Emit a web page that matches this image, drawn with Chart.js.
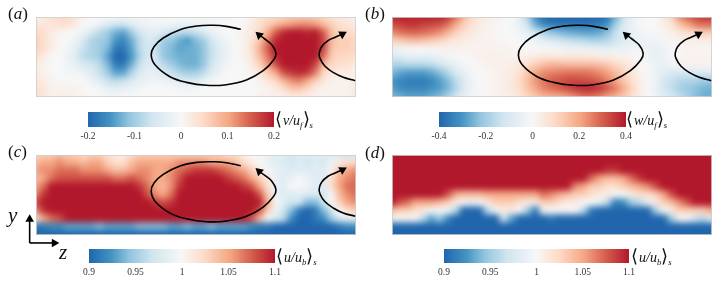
<!DOCTYPE html>
<html><head><meta charset="utf-8">
<style>
html,body{margin:0;padding:0;background:#fff;width:713px;height:286px;overflow:hidden}
#page{position:relative;width:713px;height:286px}
.clip{position:absolute;overflow:hidden;width:320px;height:80px}
.clip canvas{position:absolute;left:-14px;top:-14px;filter:blur(3px)}
.frame{position:absolute;width:320px;height:80px;box-sizing:border-box;border:1px solid rgba(205,205,205,.8)}
.txt{position:absolute;line-height:0;white-space:nowrap;font-family:"Liberation Serif",serif;color:#111}
.txt i{font-style:italic}
.br{font-family:"DejaVu Sans",sans-serif;font-weight:200}
.txt sub{font-size:.62em;line-height:0;vertical-align:-.35em}
</style>
</head><body><div id="page"></div>
<script src="https://cdn.jsdelivr.net/npm/chart.js@4/dist/chart.umd.min.js"></script>
<script>
const rdbu = ['#2166ac','#4393c3','#92c5de','#d1e5f0','#f7f7f7','#fddbc7','#f4a582','#d6604d','#b2182b'];
const rdbuPos = [0,0.12,0.22,0.34,0.5,0.62,0.76,0.87,1];

const ticksA = [-0.2,-0.1,0,0.1,0.2];
const tickLabelsA = ['-0.2','-0.1','0','0.1','0.2'];
const ticksB = [-0.4,-0.2,0,0.2,0.4];
const tickLabelsB = ['-0.4','-0.2','0','0.2','0.4'];
const ticksCD = [0.9,0.95,1,1.05,1.1];
const tickLabelsCD = ['0.9','0.95','1','1.05','1.1'];

/* values in hundredths, rows run from the top of each panel to the bottom */
const fieldA = [
[1,2,4,5,5,3,1,0,0,0,0,-1,-1,-1,-1,0,0,0,0,0,0,-1,-1,-1,-1,0,0,1,3,4,4,5,6,6,6,6,5,3,2,2,1],
[3,3,3,4,4,2,0,0,-2,-4,-6,-6,-4,-2,-1,-1,-1,-1,-2,-2,-2,-1,-1,0,0,0,0,2,4,6,8,10,11,12,12,11,8,6,4,3,2],
[5,4,2,1,0,0,-2,-5,-8,-10,-13,-14,-10,-6,-4,-3,-5,-7,-8,-8,-7,-5,-2,-1,0,0,1,2,5,9,15,19,20,20,19,20,15,8,5,5,4],
[6,4,2,0,0,-2,-5,-9,-10,-11,-15,-17,-13,-8,-5,-6,-10,-11,-13,-15,-12,-10,-6,-3,-1,0,1,3,7,13,19,20,21,21,20,21,17,8,6,6,5],
[6,4,2,0,-1,-3,-7,-9,-10,-12,-18,-18,-14,-8,-5,-7,-11,-12,-14,-13,-13,-11,-7,-4,-2,0,1,4,9,15,20,22,22,22,22,21,17,7,6,6,5],
[4,2,0,0,-2,-4,-8,-9,-10,-14,-20,-20,-15,-9,-5,-6,-11,-12,-13,-13,-13,-11,-7,-4,-2,0,1,3,8,13,19,21,22,22,22,20,14,6,5,5,4],
[2,1,0,0,-1,-3,-5,-6,-8,-12,-18,-18,-13,-7,-4,-5,-8,-10,-12,-13,-13,-11,-6,-3,-1,0,0,2,5,11,16,20,21,21,21,17,8,5,4,4,2],
[2,1,0,0,-1,-1,-2,-4,-7,-10,-14,-14,-9,-5,-3,-3,-5,-7,-9,-10,-10,-8,-4,-2,0,0,0,1,3,6,10,16,18,19,18,13,5,3,2,2,1],
[3,2,1,0,0,0,0,-2,-4,-7,-8,-7,-5,-3,-2,-1,-2,-3,-4,-5,-5,-3,-1,0,0,0,0,0,1,3,5,9,12,13,10,6,3,1,1,1,1],
[4,3,1,1,1,1,0,0,-1,-3,-3,-3,-2,-1,0,0,0,0,-1,-1,-1,0,0,0,0,0,0,0,0,1,2,4,7,7,5,2,1,1,1,1,2],
[4,3,1,2,2,1,1,0,0,-1,-1,0,0,0,0,0,0,0,0,0,0,0,0,0,0,0,0,0,1,1,1,1,2,2,2,1,1,1,1,1,3]
];
const fieldB = [
[38,39,39,38,39,39,39,36,28,18,9,5,3,2,1,0,-6,-18,-32,-38,-40,-40,-40,-40,-40,-40,-40,-36,-26,-13,-5,-1,0,0,4,10,24,30,34,36,36],
[32,34,36,36,34,33,32,28,20,12,7,4,2,1,0,-1,-5,-13,-26,-33,-36,-37,-37,-37,-37,-36,-35,-31,-20,-10,-4,-1,0,0,3,6,14,20,26,28,28],
[24,27,29,29,28,26,24,18,12,8,5,3,2,1,0,0,-3,-6,-11,-18,-22,-24,-26,-27,-28,-28,-27,-23,-14,-8,-5,-2,-1,-1,1,3,6,8,10,12,12],
[11,13,15,16,15,13,11,8,5,4,3,2,2,1,1,0,-1,-2,-4,-7,-9,-12,-14,-15,-16,-18,-18,-17,-13,-10,-7,-4,-3,-3,-1,1,2,3,3,3,3],
[-4,-2,-1,0,0,1,1,2,2,2,2,2,2,2,2,1,1,0,0,-1,-1,-2,-3,-3,-4,-4,-5,-6,-5,-4,-3,-3,-4,-5,-4,-1,0,1,1,1,1],
[-10,-8,-6,-5,-6,-5,-4,-2,-1,0,1,2,3,3,2,2,2,3,4,5,5,4,5,5,4,4,3,3,2,2,1,0,-3,-5,-4,-1,1,2,2,2,1],
[-17,-18,-16,-16,-16,-15,-12,-8,-5,-2,0,1,2,3,3,3,5,8,12,15,17,17,16,16,16,16,15,13,10,7,4,1,-1,-4,-4,-2,1,2,2,2,1],
[-24,-27,-29,-29,-29,-27,-23,-17,-10,-6,-2,0,1,2,3,4,7,14,20,24,25,26,27,27,27,26,24,21,16,11,6,2,0,-4,-7,-10,-10,-9,-8,-8,-8],
[-30,-33,-35,-35,-35,-33,-29,-24,-16,-9,-3,0,1,2,3,5,9,15,23,27,30,31,33,33,32,31,29,25,20,14,8,3,0,-3,-11,-14,-17,-18,-18,-20,-20],
[-28,-32,-33,-33,-33,-31,-29,-25,-18,-9,-3,0,1,2,3,5,9,14,20,25,28,30,33,36,38,38,36,31,26,19,11,4,0,-4,-11,-15,-19,-21,-23,-25,-26],
[-24,-26,-28,-28,-28,-26,-24,-19,-12,-6,-2,0,1,2,2,4,6,10,14,17,18,19,21,24,27,27,25,21,18,14,8,3,0,-3,-8,-11,-15,-19,-23,-26,-26]
];
const fieldC = [
[102,103,103,104,103,103,102,103,103,102,101,101,102,103,103,103,103,103,103,103,103,103,103,103,102,102,101,100,100,99,98,98,97,98,98,98,98,98,97,97,97],
[104,105,105,106,105,105,104,105,105,103,102,102,104,105,105,105,105,105,106,106,106,106,105,105,105,104,102,101,100,99,98,98,97,98,97,98,97,99,101,102,102],
[105,106,106,107,107,107,106,106,106,105,104,104,105,106,106,105,105,106,107,108,109,109,109,108,107,106,105,103,101,100,99,98,98,98,98,98,98,100,104,105,106],
[104,105,107,108,108,108,108,108,108,108,107,107,108,107,106,105,105,106,108,110,110,110,110,110,109,108,107,105,103,101,99,98,99,100,99,98,98,102,105,106,107],
[105,107,110,110,110,110,110,110,110,110,110,110,110,109,107,105,104,106,109,110,110,110,110,110,110,110,109,108,105,102,99,98,100,100,99,98,98,102,105,107,107],
[106,109,110,110,110,110,110,110,110,110,110,110,110,110,108,106,105,107,110,110,110,110,110,110,110,110,110,110,108,103,99,98,98,98,98,98,97,100,104,106,107],
[108,110,110,110,110,110,110,110,110,110,110,110,110,110,110,109,108,109,110,110,110,110,110,110,110,110,110,110,110,105,100,98,97,97,94,94,97,100,103,105,106],
[106,109,110,110,110,110,110,110,110,110,110,110,110,110,110,110,110,110,110,110,110,110,110,110,110,110,110,110,108,103,99,97,94,91,90,91,94,97,100,102,103],
[101,105,107,108,110,110,110,110,110,110,110,110,110,110,110,110,110,110,110,110,110,110,110,110,110,110,110,108,104,100,98,96,92,90,90,91,92,95,98,99,99],
[91,91,92,92,93,93,93,93,94,93,93,93,93,94,94,94,94,93,93,94,93,93,94,93,93,93,93,92,91,91,90,90,90,90,90,90,90,90,91,92,92],
[90,90,90,90,90,90,90,90,90,90,90,90,90,90,90,90,90,90,90,90,90,90,90,90,90,90,90,90,90,90,90,90,90,90,90,90,90,90,90,90,90]
];
const fieldD = [
[110,110,110,110,110,110,110,110,110,110,110,110,110,110,110,110,110,110,110,110,110,110,110,110,110,110,110,110,110,110,110,110,110,110,110,110,110,110,110,110,110],
[110,110,110,110,110,110,110,110,110,110,110,110,110,110,110,110,110,110,110,110,110,110,110,110,110,110,110,110,110,110,110,110,110,110,110,110,110,110,110,110,110],
[110,110,110,110,110,110,110,110,110,110,110,110,110,110,110,110,110,110,110,110,110,110,110,110,110,110,110,109,109,110,110,110,110,110,110,110,110,110,110,110,110],
[110,110,110,110,110,110,110,110,110,110,110,110,110,110,110,110,110,110,110,110,110,110,110,110,110,107,105,104,104,105,107,109,110,110,110,110,110,110,110,110,110],
[110,110,110,110,110,110,110,110,110,110,110,110,110,110,110,110,110,110,110,110,110,110,110,106,105,103,103,102,102,103,104,105,106,108,110,110,110,110,110,110,110],
[110,110,110,110,110,110,110,108,105,104,104,104,105,105,105,105,105,105,105,107,106,105,104,103,103,102,101,101,100,100,101,102,102,103,105,108,110,110,110,110,110],
[110,108,107,105,105,105,104,103,101,100,99,100,101,103,103,103,102,101,101,103,103,102,101,101,100,100,99,96,91,92,95,96,99,101,103,104,106,108,110,110,110],
[104,103,103,102,101,100,100,100,96,90,90,90,96,100,101,101,100,95,91,100,100,100,100,100,96,91,90,90,90,90,90,90,90,95,100,101,103,103,103,103,105],
[100,100,100,100,96,93,95,92,90,90,90,90,90,90,97,93,90,90,90,90,91,90,90,90,90,90,90,90,90,90,90,90,90,90,90,95,100,100,97,96,99],
[90,90,90,90,90,90,90,90,90,90,90,90,90,90,90,90,90,90,90,90,90,90,90,90,90,90,90,90,90,90,90,90,90,90,90,90,90,90,90,90,90],
[90,90,90,90,90,90,90,90,90,90,90,90,90,90,90,90,90,90,90,90,90,90,90,90,90,90,90,90,90,90,90,90,90,90,90,90,90,90,90,90,90]
];

/* sketched streamlines in panel units (z 0-40, y 0-10) */
const mainVortexZ = [25.6,23.8,22.2,20.1,18.0,15.9,14.75,14.4,14.9,16.75,18.8,21.3,23.8,26.3,28.4,29.7,30.0,29.5,28.6,27.9];
const mainVortexY = [8.46,8.83,8.96,8.88,8.42,7.38,6.29,5.25,4.0,2.54,1.83,1.46,1.54,2.13,3.29,4.63,5.46,6.5,7.25,7.75];
const sideVortexZ = [39.9,38.4,37.2,36.1,35.5,35.4,35.7,36.5,37.4,38.3];
const sideVortexY = [2.04,2.46,3.04,3.88,4.83,5.46,6.29,7.04,7.46,7.85];
const axisYZ = [-1.1,-1.1], axisYY = [-1.4,2.3];
const axisZZ = [-1.1,2.6], axisZY = [-1.4,-1.4];

const page = document.getElementById('page');
const hex = h => [1,3,5].map(i => parseInt(h.slice(i,i+2),16));
function colour(t){
  t = Math.max(0,Math.min(1,t));
  let i = 0;
  while(i < rdbu.length-2 && t > rdbuPos[i+1]) i++;
  const f = (t-rdbuPos[i])/(rdbuPos[i+1]-rdbuPos[i]), a = hex(rdbu[i]), b = hex(rdbu[i+1]);
  return `rgb(${a.map((v,k)=>Math.round(v+(b[k]-v)*f)).join(',')})`;
}
function makeCanvas(parent,w,h,css){
  const c = document.createElement('canvas');
  c.width = w; c.height = h; c.style.width = w+'px'; c.style.height = h+'px';
  if(css) Object.assign(c.style,css);
  parent.appendChild(c);
  return c;
}
const quiet = {legend:{display:false},tooltip:{enabled:false},title:{display:false}};
const panelScales = {
  x:{type:'linear',min:0,max:40,display:false},
  y:{type:'linear',min:0,max:10,display:false}
};

function heat(rows,lo,hi,left,top){
  const box = document.createElement('div');
  box.className = 'clip'; box.style.left = left+'px'; box.style.top = top+'px';
  page.appendChild(box);
  const pts = rows.flatMap((r,j)=>r.map((v,i)=>({x:i,y:10-j,v})));
  const edge = pts.filter(p=>p.x===0||p.x===40||p.y===0||p.y===10);
  const col = p => colour((p.v-lo)/(hi-lo));
  new Chart(makeCanvas(box,348,108),{
    type:'scatter',
    data:{datasets:[
      {data:pts,order:0,clip:false,pointStyle:'rect',pointRadius:6.5,pointBorderWidth:0,pointBackgroundColor:pts.map(col)},
      {data:edge,order:1,clip:false,pointStyle:'rect',pointRadius:14,pointBorderWidth:0,pointBackgroundColor:edge.map(col)}
    ]},
    options:{responsive:false,animation:false,events:[],layout:{padding:14},plugins:quiet,scales:panelScales}
  });
  const fr = document.createElement('div');
  fr.className='frame'; fr.style.left=left+'px'; fr.style.top=top+'px';
  page.appendChild(fr);
}

function curve(zs,ys,dz,dy){
  return {data:zs.map((z,i)=>({x:z+dz,y:ys[i]+dy})),showLine:true,tension:0.4,borderColor:'#000',borderWidth:1.6,pointRadius:0,clip:false};
}
function head(zs,ys,dz,dy,rot){
  const n = zs.length-1;
  return {data:[{x:zs[n]+dz,y:ys[n]+dy}],showLine:false,pointStyle:'triangle',pointRadius:5,pointRotation:rot,pointBackgroundColor:'#000',pointBorderWidth:0,clip:false};
}
function overlay(left,top,dz,dy,sideDy){
  const datasets = [
    curve(mainVortexZ,mainVortexY,dz,dy), head(mainVortexZ,mainVortexY,dz,dy,-48),
    curve(sideVortexZ,sideVortexY,0,sideDy), head(sideVortexZ,sideVortexY,0,sideDy,62)
  ];
  new Chart(makeCanvas(page,348,108,{position:'absolute',left:(left-14)+'px',top:(top-14)+'px'}),{
    type:'scatter',data:{datasets},
    options:{responsive:false,animation:false,events:[],layout:{padding:14},plugins:quiet,scales:panelScales}
  });
}

function axesGlyph(){
  const stroke = {showLine:true,borderColor:'#000',borderWidth:1.6,pointRadius:0};
  const tip = {showLine:false,pointStyle:'triangle',pointRadius:5,pointBackgroundColor:'#000',pointBorderWidth:0};
  new Chart(makeCanvas(page,60,50,{position:'absolute',left:'12px',top:'205px'}),{
    type:'scatter',
    data:{datasets:[
      {...stroke,data:axisYZ.map((z,i)=>({x:z,y:axisYY[i]}))},
      {...stroke,data:axisZZ.map((z,i)=>({x:z,y:axisZY[i]}))},
      {...tip,pointRotation:0,data:[{x:axisYZ[1],y:axisYY[1]}]},
      {...tip,pointRotation:90,data:[{x:axisZZ[1],y:axisZY[1]}]}
    ]},
    options:{responsive:false,animation:false,events:[],plugins:quiet,
      scales:{x:{type:'linear',min:-3,max:4.5,display:false},y:{type:'linear',min:-2.5,max:3.75,display:false}}}
  });
}

function colourbar(lo,hi,tickVals,tickLabels,left,top,w,h){
  const pad = 24, axisH = 16;
  new Chart(makeCanvas(page,w+2*pad,h+axisH,{position:'absolute',left:(left-pad)+'px',top:top+'px'}),{
    type:'bar',
    data:{labels:['scale'],datasets:[{
      data:[[lo,hi]],barPercentage:1,categoryPercentage:1,borderWidth:0,
      backgroundColor(c){
        const a = c.chart.chartArea;
        if(!a) return rdbu[0];
        const g = c.chart.ctx.createLinearGradient(a.left,0,a.right,0);
        rdbu.forEach((s,i)=>g.addColorStop(rdbuPos[i],s));
        return g;
      }
    }]},
    options:{indexAxis:'y',responsive:false,animation:false,events:[],
      layout:{padding:{left:pad,right:pad,top:0,bottom:0}},plugins:quiet,
      scales:{
        y:{display:false},
        x:{type:'linear',min:lo,max:hi,border:{display:false},grid:{display:false,drawTicks:false},
          afterBuildTicks(s){s.ticks=tickVals.map(v=>({value:v}));},
          afterFit(s){s.height=axisH;s.paddingLeft=0;s.paddingRight=0;},
          ticks:{autoSkip:false,maxRotation:0,minRotation:0,padding:4,color:'#333',
            font:{family:'"Liberation Serif",serif',size:9.5},
            callback:(v,i)=>tickLabels[i]}
        }
      }}
  });
}

heat(fieldA,-20,20,36,17);
heat(fieldB,-40,40,392,17);
heat(fieldC,90,110,36,155);
heat(fieldD,90,110,392,155);

overlay(36,17,0,0,0);
overlay(392,17,1.4,0,0);
overlay(36,155,0,0.2,0.3);
axesGlyph();

colourbar(-0.2,0.2,ticksA,tickLabelsA,88,112,186,15);
colourbar(-0.4,0.4,ticksB,tickLabelsB,439,112,187,15);
colourbar(0.9,1.1,ticksCD,tickLabelsCD,89,249,186,14);
colourbar(0.9,1.1,ticksCD,tickLabelsCD,444,249,185,14);

function text(html,x,baseline,size){
  const s = document.createElement('span');
  s.className='txt'; s.innerHTML=html;
  s.style.left=x+'px'; s.style.top=(baseline-0.34*size)+'px'; s.style.fontSize=size+'px';
  page.appendChild(s);
}
text('(<i>a</i>)',8,20,17);
text('(<i>b</i>)',365,20,17);
text('(<i>c</i>)',8,158,17);
text('(<i>d</i>)',365,159,17);
text('<i>y</i>',8,222,21);
text('<i>z</i>',59,259,21);
const angle = (n,d) => `<span class="br" style="font-size:1.25em;margin-right:1px">⟨</span><i>${n}/u<sub>${d}</sub></i><span class="br" style="font-size:1.25em">⟩</span><sub><i>s</i></sub>`;
text(angle('v','f'),275,124,14);
text(angle('w','f'),626,124,14);
text(angle('u','b'),276,261,14);
text(angle('u','b'),631,261,14);
</script>
</body></html>
